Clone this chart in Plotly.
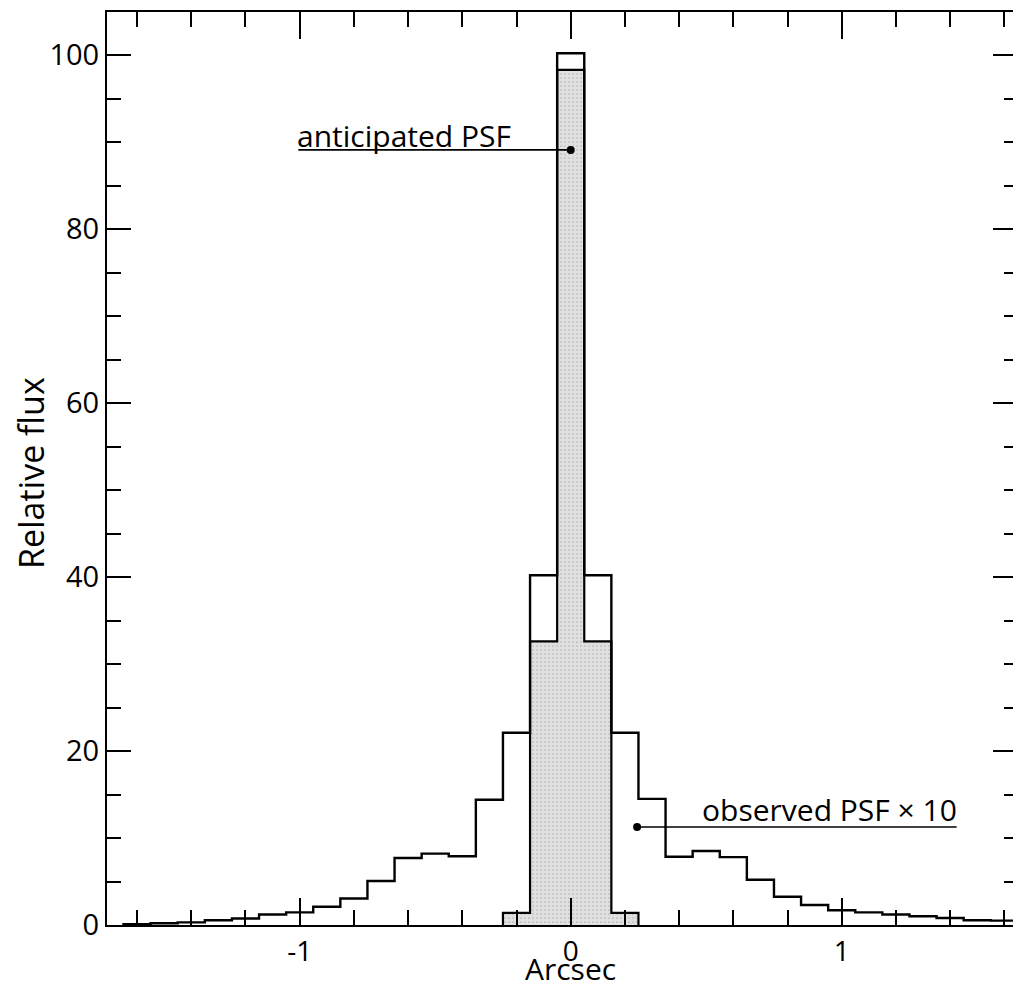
import plotly.graph_objects as go

# Observed PSF x10 (bin centers, arcsec) and values
obs_centers = [-1.6, -1.5, -1.4, -1.3, -1.2, -1.1, -1.0, -0.9, -0.8, -0.7, -0.6, -0.5, -0.4,
               -0.3, -0.2, -0.1, 0.0, 0.1, 0.2, 0.3, 0.4, 0.5, 0.6, 0.7, 0.8, 0.9, 1.0,
               1.1, 1.2, 1.3, 1.4, 1.5, 1.6]
obs_values = [0.1, 0.2, 0.3, 0.55, 0.75, 1.2, 1.45, 2.1, 3.05, 5.05, 7.7, 8.2, 7.9,
              14.4, 22.1, 40.2, 100.2, 40.2, 22.1, 14.5, 7.85, 8.5, 7.8, 5.2, 3.25, 2.3, 1.7,
              1.45, 1.2, 1.0, 0.8, 0.55, 0.5]

# Anticipated PSF
ant_centers = [-0.2, -0.1, 0.0, 0.1, 0.2]
ant_values = [1.4, 32.6, 98.3, 32.6, 1.4]

bin_width = 0.1

# Tick labels
x_tick_vals = [-1, 0, 1]
x_tick_text = ["-1", "0", "1"]

# Annotation anchor points (data coords)
ant_label = "anticipated PSF"
ant_dot = (0.0, 89.1)
ant_line_start = -1.005
obs_label = "observed PSF \u00d7 10"
obs_dot = (0.245, 11.26)
obs_line_end = 1.424

FONT = "Open Sans"


def step_path(centers, values, w):
    xs = [centers[0] - w / 2]
    ys = [0]
    for c, v in zip(centers, values):
        xs.append(c - w / 2)
        ys.append(v)
    xs.append(centers[-1] + w / 2)
    ys.append(0)
    return xs, ys


ax, ay = step_path(ant_centers, ant_values, bin_width)
ox, oy = step_path(obs_centers, obs_values, bin_width)

fig = go.Figure()

fig.add_trace(go.Scatter(
    x=ax, y=ay, mode="lines", line=dict(color="black", width=2.2, shape="hv"),
    fill="tozeroy", fillcolor="#dcdcdc",
    fillpattern=dict(shape=".", fgcolor="#8c8c8c", bgcolor="#e0e0e0", size=4, solidity=0.15),
    showlegend=False, hoverinfo="skip",
))

fig.add_trace(go.Scatter(
    x=ox, y=oy, mode="lines", line=dict(color="black", width=2.4, shape="hv"),
    showlegend=False, hoverinfo="skip",
))

# pointer lines
fig.add_trace(go.Scatter(
    x=[ant_line_start, ant_dot[0]], y=[ant_dot[1], ant_dot[1]], mode="lines",
    line=dict(color="black", width=1.6), showlegend=False, hoverinfo="skip",
))
fig.add_trace(go.Scatter(
    x=[obs_dot[0], obs_line_end], y=[obs_dot[1], obs_dot[1]], mode="lines",
    line=dict(color="black", width=1.6), showlegend=False, hoverinfo="skip",
))
fig.add_trace(go.Scatter(
    x=[ant_dot[0], obs_dot[0]], y=[ant_dot[1], obs_dot[1]], mode="markers",
    marker=dict(color="black", size=8), showlegend=False, hoverinfo="skip",
))

# invisible trace for right-side tick axis
fig.add_trace(go.Scatter(x=[0], y=[0], yaxis="y2", mode="markers",
                         marker=dict(opacity=0), showlegend=False, hoverinfo="skip"))

fig.add_annotation(x=ant_line_start, y=ant_dot[1], text=ant_label, showarrow=False,
                   xanchor="left", yanchor="bottom", yshift=-8, xshift=-3,
                   font=dict(family=FONT, size=30, color="black"))
fig.add_annotation(x=obs_line_end, y=obs_dot[1], text=obs_label, showarrow=False,
                   xanchor="right", yanchor="bottom", yshift=-5, xshift=2,
                   font=dict(family=FONT, size=30, color="black"))

# axis titles
fig.add_annotation(xref="paper", yref="paper", x=0, y=0.495, xshift=-76, text="Relative flux",
                   showarrow=False, textangle=-90, xanchor="center", yanchor="middle",
                   font=dict(family=FONT, size=34, color="black"))
fig.add_annotation(xref="paper", yref="paper", x=0.5121, y=0, yshift=-43, text="Arcsec",
                   showarrow=False, xanchor="center", yanchor="middle", borderpad=0,
                   font=dict(family=FONT, size=30, color="black"))

fig.update_layout(
    width=1005, height=980,
    margin=dict(l=99, r=0, t=4, b=63, autoexpand=False),
    paper_bgcolor="white", plot_bgcolor="white",
    font=dict(family=FONT, size=29, color="black"),
    xaxis=dict(
        range=[-1.711, 1.632], tickmode="array", tickvals=x_tick_vals, ticktext=x_tick_text,
        ticks="inside", ticklen=27, tickwidth=2, tickcolor="black",
        showline=True, linewidth=2, linecolor="black", mirror="ticks",
        showgrid=False, zeroline=False, automargin=False,
        minor=dict(tickmode="linear", dtick=0.2, tick0=0, ticks="inside", ticklen=15,
                   tickwidth=2, tickcolor="black"),
        tickfont=dict(size=28),
    ),
    yaxis=dict(
        range=[0, 104.95], tickmode="linear", tick0=0, dtick=20,
        ticks="inside", ticklen=24, tickwidth=2, tickcolor="black",
        showline=True, linewidth=2, linecolor="black", mirror=False,
        showgrid=False, zeroline=False, automargin=False,
        minor=dict(dtick=5, tick0=0, ticks="inside", ticklen=14, tickwidth=2, tickcolor="black"),
        tickfont=dict(size=29),
    ),
    yaxis2=dict(
        range=[0, 104.95], overlaying="y", side="right", tickmode="linear", tick0=0, dtick=20,
        ticks="inside", ticklen=20, tickwidth=2, tickcolor="black",
        showline=False, showgrid=False, zeroline=False, showticklabels=False, automargin=False,
        minor=dict(dtick=5, tick0=0, ticks="inside", ticklen=9, tickwidth=2, tickcolor="black"),
    ),
)

fig.write_html("out.html")
